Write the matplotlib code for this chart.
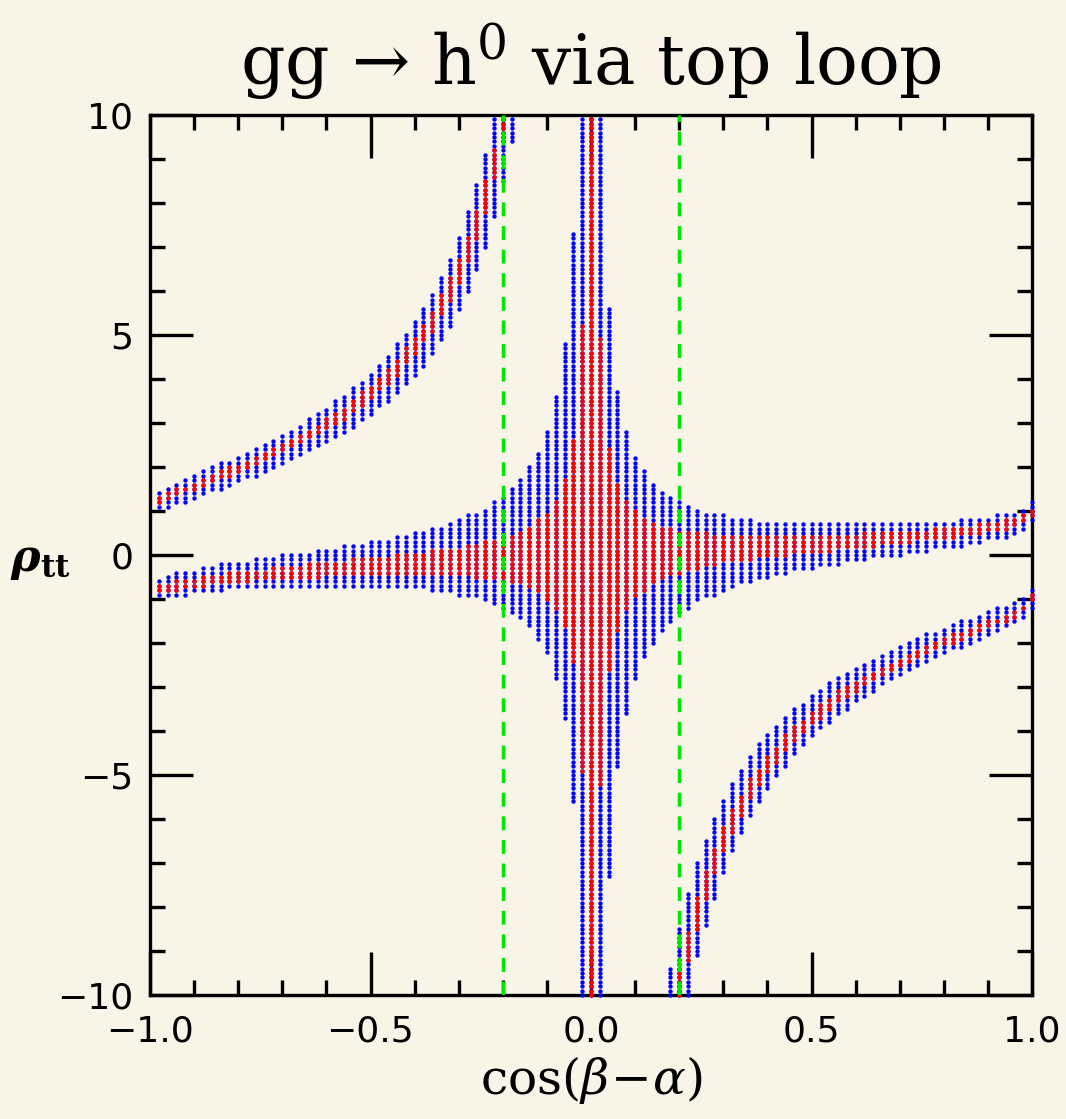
import numpy as np
import matplotlib
matplotlib.use("Agg")
import matplotlib.pyplot as plt

plt.rcParams['lines.scale_dashes'] = False
plt.rcParams['mathtext.fontset'] = 'dejavuserif'

# ---- data -------------------------------------------------------------------
# scan columns in cos(beta-alpha)
cos_ba = [-0.98, -0.96, -0.94, -0.92, -0.90, -0.88, -0.86, -0.84, -0.82, -0.80,
          -0.78, -0.76, -0.74, -0.72, -0.70, -0.68, -0.66, -0.64, -0.62, -0.60,
          -0.58, -0.56, -0.54, -0.52, -0.50, -0.48, -0.46, -0.44, -0.42, -0.40,
          -0.38, -0.36, -0.34, -0.32, -0.30, -0.28, -0.26, -0.24, -0.22, -0.20,
          -0.18, -0.16, -0.14, -0.12, -0.10, -0.08, -0.06, -0.04, -0.02, 0.00,
          0.02, 0.04, 0.06, 0.08, 0.10, 0.12, 0.14, 0.16, 0.18, 0.20,
          0.22, 0.24, 0.26, 0.28, 0.30, 0.32, 0.34, 0.36, 0.38, 0.40,
          0.42, 0.44, 0.46, 0.48, 0.50, 0.52, 0.54, 0.56, 0.58, 0.60,
          0.62, 0.64, 0.66, 0.68, 0.70, 0.72, 0.74, 0.76, 0.78, 0.80,
          0.82, 0.84, 0.86, 0.88, 0.90, 0.92, 0.94, 0.96, 0.98, 1.00]

# allowed rho_tt ranges per column, in units of 0.1 (scan step); None = no points
# central band (near rho_tt ~ 0), blue = wide region
central_blue_lo = [-9, -9, -9, -9, -8, -8, -8, -8, -7, -7,
                   -7, -7, -7, -7, -7, -7, -7, -7, -7, -7,
                   -7, -7, -7, -7, -7, -7, -7, -7, -7, -7,
                   -7, -8, -8, -8, -9, -9, -9, -10, -11, -12,
                   -13, -14, -16, -19, -22, -28, -37, -56, -100, -100,
                   -100, -73, -48, -36, -28, -23, -20, -17, -15, -13,
                   -12, -10, -9, -9, -8, -7, -6, -6, -5, -5,
                   -4, -4, -3, -3, -3, -2, -2, -2, -1, -1,
                   -1, 0, 0, 0, 0, 1, 1, 1, 2, 2,
                   2, 2, 3, 3, 4, 4, 4, 5, 6, 8]
central_blue_hi = [-6, -5, -4, -4, -4, -3, -3, -2, -2, -2,
                   -2, -1, -1, -1, 0, 0, 0, 0, 1, 1,
                   1, 2, 2, 2, 3, 3, 3, 4, 4, 5,
                   5, 6, 6, 7, 8, 9, 9, 10, 12, 13,
                   15, 17, 20, 23, 28, 36, 48, 73, 99, 99,
                   99, 56, 37, 28, 22, 19, 16, 14, 13, 12,
                   11, 10, 9, 9, 9, 8, 8, 8, 7, 7,
                   7, 7, 7, 7, 7, 7, 7, 7, 7, 7,
                   7, 7, 7, 7, 7, 7, 7, 7, 7, 7,
                   7, 8, 8, 8, 8, 9, 9, 9, 10, 12]
# central band, red = narrow region
central_red_lo = [-8, -8, -8, -7, -7, -7, -6, -6, -6, -6,
                  -6, -5, -5, -5, -5, -5, -5, -5, -5, -4,
                  -4, -4, -4, -4, -4, -4, -4, -4, -4, -4,
                  -4, -4, -4, -4, -4, -4, -5, -5, -5, -5,
                  -6, -6, -7, -8, -10, -12, -16, -24, -49, -100,
                  -52, -26, -17, -12, -9, -8, -6, -5, -4, -4,
                  -3, -3, -2, -2, -1, -1, -1, -1, 0, 0,
                  0, 0, 1, 1, 1, 1, 1, 2, 2, 2,
                  2, 2, 3, 3, 3, 3, 4, 4, 4, 4,
                  4, 5, 5, 5, 6, 6, 6, 7, 8, 9]
central_red_hi = [-7, -7, -6, -6, -6, -5, -5, -5, -4, -4,
                  -4, -4, -4, -3, -3, -3, -3, -2, -2, -2,
                  -2, -2, -1, -1, -1, -1, -1, 0, 0, 0,
                  0, 1, 1, 1, 1, 2, 2, 3, 3, 4,
                  4, 5, 6, 8, 9, 12, 17, 26, 52, 99,
                  49, 24, 16, 12, 10, 8, 7, 6, 6, 5,
                  5, 5, 5, 4, 4, 4, 4, 4, 4, 4,
                  4, 4, 4, 4, 4, 4, 4, 4, 4, 4,
                  5, 5, 5, 5, 5, 5, 5, 5, 6, 6,
                  6, 6, 6, 7, 7, 7, 8, 8, 9, 10]
# wrong-sign (hyperbolic) band, blue
branch_blue_lo = [11, 11, 12, 12, 13, 14, 15, 15, 16, 17,
                  18, 18, 19, 20, 21, 22, 23, 24, 25, 26,
                  27, 28, 29, 31, 32, 34, 35, 37, 39, 41,
                  43, 46, 49, 52, 56, 60, 65, 70, 77, 85,
                  94, None, None, None, None, None, None, None, None, None,
                  None, None, None, None, None, None, None, None, -100, -100,
                  -100, -91, -84, -78, -72, -67, -63, -59, -56, -53,
                  -50, -48, -45, -43, -41, -39, -38, -36, -35, -33,
                  -32, -31, -29, -28, -27, -26, -25, -24, -23, -22,
                  -21, -21, -20, -19, -18, -17, -16, -15, -14, -12]
branch_blue_hi = [14, 15, 16, 17, 18, 19, 20, 21, 21, 22,
                  23, 24, 25, 26, 27, 28, 29, 31, 32, 33,
                  35, 36, 38, 39, 41, 43, 45, 48, 50, 53,
                  56, 59, 63, 67, 72, 78, 84, 91, 99, 99,
                  99, None, None, None, None, None, None, None, None, None,
                  None, None, None, None, None, None, None, None, -94, -85,
                  -77, -70, -65, -60, -56, -52, -49, -46, -43, -41,
                  -39, -37, -35, -34, -32, -31, -29, -28, -27, -26,
                  -25, -24, -23, -22, -21, -20, -19, -18, -18, -17,
                  -16, -15, -15, -14, -13, -12, -12, -11, -10, -8]
# wrong-sign (hyperbolic) band, red
branch_red_lo = [12, 13, 14, 15, 15, 16, 17, 18, 18, 19,
                 20, 21, 22, 23, 24, 25, 26, 27, 28, 29,
                 30, 31, 33, 34, 36, 38, 39, 41, 44, 46,
                 49, 51, 55, 58, 62, 67, 72, 78, 86, 94,
                 None, None, None, None, None, None, None, None, None, None,
                 None, None, None, None, None, None, None, None, None, -100,
                 -92, -85, -78, -72, -67, -63, -59, -55, -52, -49,
                 -47, -44, -42, -40, -38, -37, -35, -33, -32, -31,
                 -29, -28, -27, -26, -25, -24, -23, -22, -21, -20,
                 -20, -19, -18, -17, -16, -15, -15, -14, -12, -10]
branch_red_hi = [13, 14, 15, 15, 16, 17, 18, 19, 20, 20,
                 21, 22, 23, 24, 25, 26, 27, 28, 29, 31,
                 32, 33, 35, 37, 38, 40, 42, 44, 47, 49,
                 52, 55, 59, 63, 67, 72, 78, 85, 92, 99,
                 None, None, None, None, None, None, None, None, None, None,
                 None, None, None, None, None, None, None, None, None, -94,
                 -86, -78, -72, -67, -62, -58, -55, -51, -49, -46,
                 -44, -41, -39, -38, -36, -34, -33, -31, -30, -29,
                 -28, -27, -26, -25, -24, -23, -22, -21, -20, -19,
                 -18, -18, -17, -16, -15, -15, -14, -13, -12, -9]

xtick_vals = [-1.0, -0.5, 0.0, 0.5, 1.0]
xtick_labels = ['\u22121.0', '\u22120.5', '0.0', '0.5', '1.0']
ytick_vals = [-10, -5, 0, 5, 10]
ytick_labels = ['\u221210', '\u22125', '0', '5', '10']
green_lines = [-0.2, 0.2]

# ---- drawing -----------------------------------------------------------------
BG = '#f8f4e8'
BLUE, RED, GREEN = '#0000ff', '#ff0000', '#00e600'

fig = plt.figure(figsize=(10.66, 11.19), dpi=100, facecolor=BG)
ax = fig.add_axes([150/1066, 1-995/1119, 882/1066, 880/1119], facecolor=BG)


def expand(lo_list, hi_list):
    X, Y = [], []
    for x, lo, hi in zip(cos_ba, lo_list, hi_list):
        if lo is None:
            continue
        for j in range(lo, hi + 1):
            X.append(x)
            Y.append(j / 10.0)
    return X, Y


for lo, hi, col in [(central_blue_lo, central_blue_hi, BLUE),
                    (branch_blue_lo, branch_blue_hi, BLUE),
                    (central_red_lo, central_red_hi, RED),
                    (branch_red_lo, branch_red_hi, RED)]:
    X, Y = expand(lo, hi)
    ax.scatter(X, Y, s=10, marker='o', c=col, linewidths=0, zorder=3, clip_on=False)

for xv in green_lines:
    ax.axvline(xv, color=GREEN, lw=2.5, dashes=(10, 7), zorder=4)

ax.set_xlim(-1, 1)
ax.set_ylim(-10, 10)
for sp in ax.spines.values():
    sp.set_linewidth(2.4)
    sp.set_zorder(2.5)
ax.set_xticks(xtick_vals)
ax.set_xticklabels(xtick_labels)
ax.set_xticks(np.linspace(-1, 1, 21), minor=True)
ax.set_yticks(ytick_vals)
ax.set_yticklabels(ytick_labels)
ax.set_yticks(np.linspace(-10, 10, 21), minor=True)
ax.tick_params(which='both', direction='in', top=True, right=True, width=2.4, labelsize=26)
ax.tick_params(axis='x', pad=14)
ax.tick_params(axis='y', pad=12)
ax.tick_params(which='major', length=31)
ax.tick_params(which='minor', length=11)

fig.text(591/1066, 1-62/1119, 'gg \u2192 h$^{0}$ via top loop', ha='center', va='center',
         fontsize=50, family='DejaVu Serif')
ax.set_xlabel('cos($\\beta\\!-\\!\\alpha$)', fontsize=35, family='DejaVu Serif', labelpad=4)
fig.text(40/1066, 1-560/1119, '$\\boldsymbol{\\rho}_{\\mathbf{tt}}$', ha='center', va='center',
         fontsize=32)

fig.savefig('out.png', dpi=100, facecolor=BG)
